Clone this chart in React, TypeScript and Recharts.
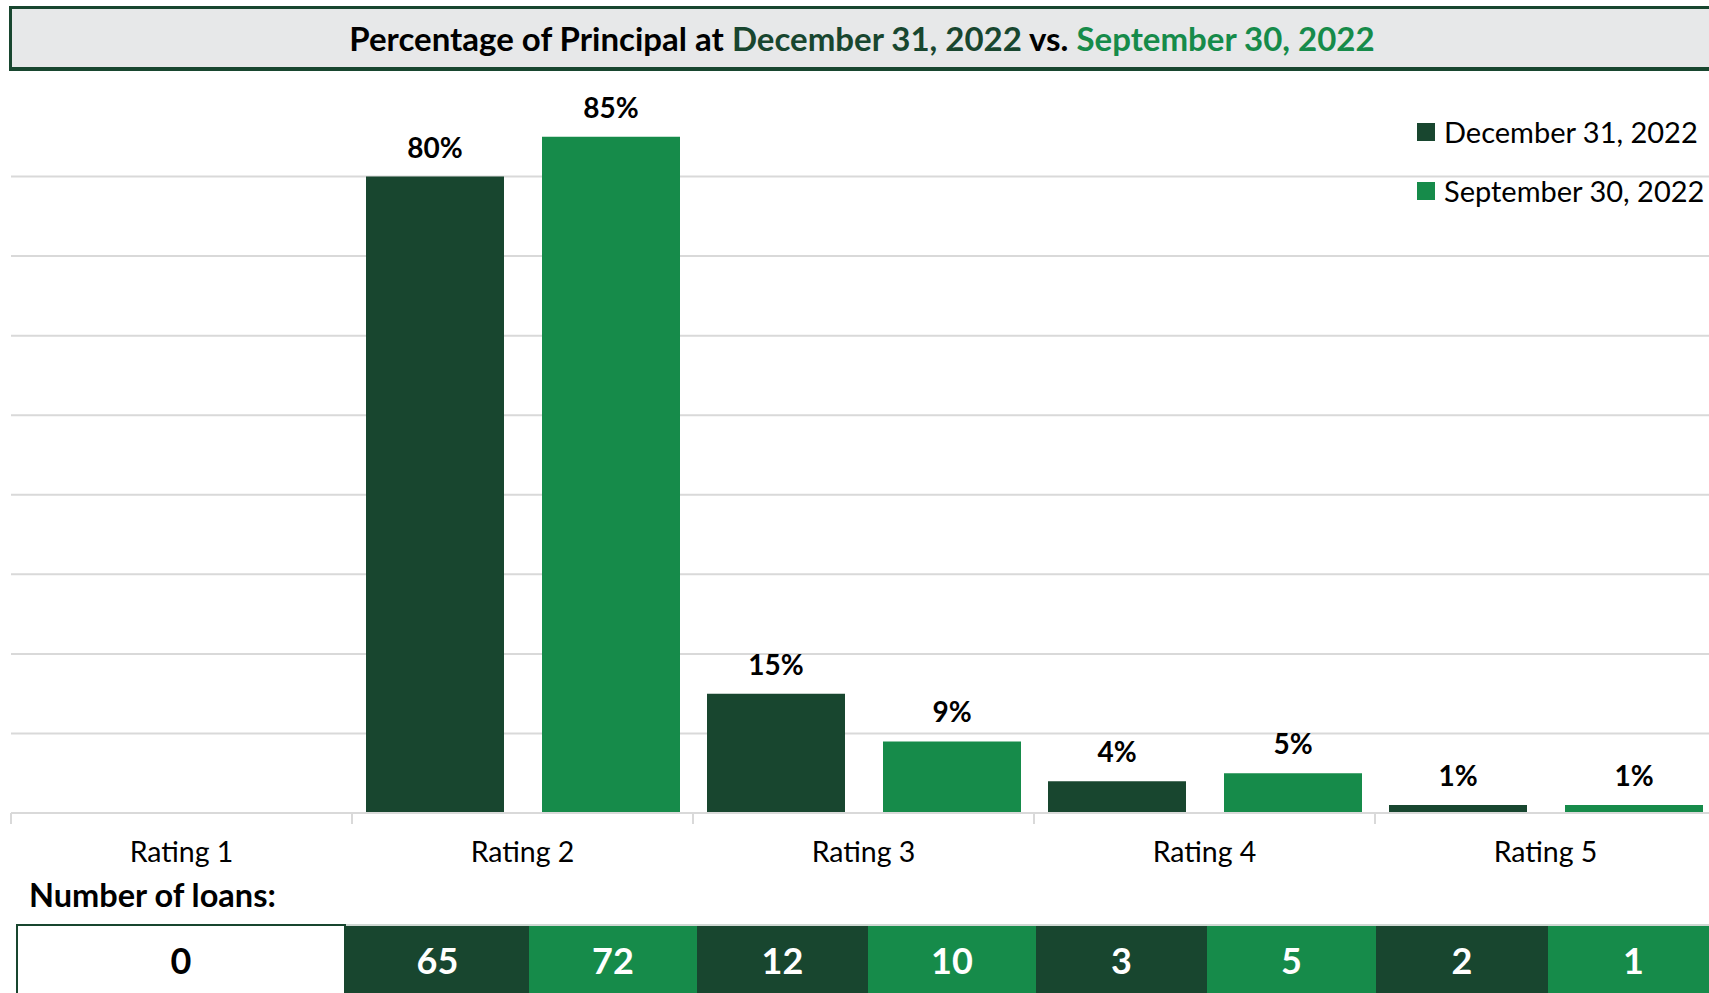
import { Bar, BarChart, CartesianGrid, LabelList, XAxis, YAxis } from "recharts"

const ratings = ["Rating 1", "Rating 2", "Rating 3", "Rating 4", "Rating 5"]
const dec2022 = [0, 80, 15, 4, 1]
const sep2022 = [0, 85, 9, 5, 1]
const decLoans = [65, 12, 3, 2]
const sepLoans = [72, 10, 5, 1]
const rating1Loans = 0
const yTicks = [0, 10, 20, 30, 40, 50, 60, 70, 80]

const DARK = "#18462f"
const LIGHT = "#168b4a"
const GRID = "#d9d9d9"
const FONT = "Lato, 'Open Sans', sans-serif"

// table cell widths in px, left to right
const cellWidths = [330, 183, 168, 171, 168, 171, 169, 172, 171]

const chartData = ratings.map((name, i) => ({
  name,
  dec: dec2022[i],
  sep: sep2022[i],
}))

const CategoryTick = (props: any) => {
  const { x, y, payload } = props
  const off = payload?.offset ?? 170.5
  return (
    <g>
      <line x1={x - off} x2={x - off} y1={y} y2={y + 11} stroke={GRID} strokeWidth={2} />
      <text x={x} y={y + 49} textAnchor="middle" fontSize={28.5} fill="#000" fontFamily={FONT}>
        {payload.value}
      </text>
    </g>
  )
}

const legendItems = [
  { label: "December 31, 2022", color: DARK },
  { label: "September 30, 2022", color: LIGHT },
]

const pct = (v: any) => (v ? `${v}%` : "")

const labelStyle = { fontFamily: FONT, fontSize: 28, fontWeight: 700, fill: "#000" }

export default function App() {
  const cells = [
    { value: rating1Loans, bg: "#fff", color: "#000" },
    ...decLoans.flatMap((d, i) => [
      { value: d, bg: DARK, color: "#fff" },
      { value: sepLoans[i], bg: LIGHT, color: "#fff" },
    ]),
  ]

  return (
    <div
      style={{
        position: "fixed",
        left: 0,
        top: 0,
        width: 1709,
        height: 993,
        overflow: "hidden",
        background: "#fff",
        fontFamily: FONT,
      }}
    >
      <div
        style={{
          position: "absolute",
          left: 9,
          top: 6,
          width: 1720,
          height: 58,
          background: "#e7e8e9",
          border: `3px solid ${DARK}`,
          borderBottomWidth: 4,
          display: "flex",
          alignItems: "center",
          justifyContent: "center",
          fontWeight: 700,
          fontSize: 33,
          boxSizing: "content-box",
        }}
      >
        <div style={{ width: 1709 - 9, textAlign: "center", marginRight: 20, whiteSpace: "nowrap" }}>
          <span style={{ color: "#000" }}>Percentage of Principal at </span>
          <span style={{ color: DARK }}>December 31, 2022</span>
          <span style={{ color: "#000" }}> vs. </span>
          <span style={{ color: LIGHT }}>September 30, 2022</span>
        </div>
      </div>

      <div style={{ position: "absolute", left: 0, top: 0 }}>
        <BarChart
          width={1730}
          height={900}
          data={chartData}
          margin={{ top: 97, right: 14, left: 11, bottom: 0 }}
          barCategoryGap={14}
          barGap={38}
        >
          <CartesianGrid vertical={false} stroke={GRID} strokeWidth={2} horizontalValues={yTicks} />
          <YAxis hide width={0} domain={[0, 90]} ticks={yTicks} />
          <XAxis
            dataKey="name"
            height={87}
            axisLine={{ stroke: GRID, strokeWidth: 2 }}
            tickLine={false}
            tickSize={0}
            tickMargin={0}
            interval={0}
            tick={<CategoryTick />}
          />
          <Bar dataKey="dec" name="December 31, 2022" fill={DARK} isAnimationActive={false}>
            <LabelList dataKey="dec" position="top" offset={19} formatter={pct} style={labelStyle} />
          </Bar>
          <Bar dataKey="sep" name="September 30, 2022" fill={LIGHT} isAnimationActive={false}>
            <LabelList dataKey="sep" position="top" offset={19} formatter={pct} style={labelStyle} />
          </Bar>
        </BarChart>
      </div>

      <div style={{ position: "absolute", left: 1417, top: 102, fontSize: 29, color: "#000" }}>
        {legendItems.map((item) => (
          <div key={item.label} style={{ display: "flex", alignItems: "center", height: 59, whiteSpace: "nowrap" }}>
            <span style={{ width: 18, height: 18, background: item.color, marginRight: 9, display: "inline-block" }} />
            <span>{item.label}</span>
          </div>
        ))}
      </div>

      <div
        style={{
          position: "absolute",
          left: 29,
          top: 875,
          fontSize: 32.5,
          fontWeight: 700,
          color: "#000",
          whiteSpace: "nowrap",
        }}
      >
        Number of loans:
      </div>

      <div
        style={{
          position: "absolute",
          left: 16,
          top: 924,
          height: 90,
          display: "flex",
        }}
      >
        {cells.map((c, i) => (
          <div
            key={i}
            style={{
              width: cellWidths[i],
              height: 90,
              boxSizing: "border-box",
              background: c.bg,
              color: c.color,
              border: i === 0 ? `2px solid ${DARK}` : "none",
              borderTop: i === 0 ? `2px solid ${DARK}` : "2px solid #cfd8d3",
              fontSize: 36,
              fontWeight: 700,
              textAlign: "center",
              paddingTop: 12,
            }}
          >
            {c.value}
          </div>
        ))}
      </div>
    </div>
  )
}
